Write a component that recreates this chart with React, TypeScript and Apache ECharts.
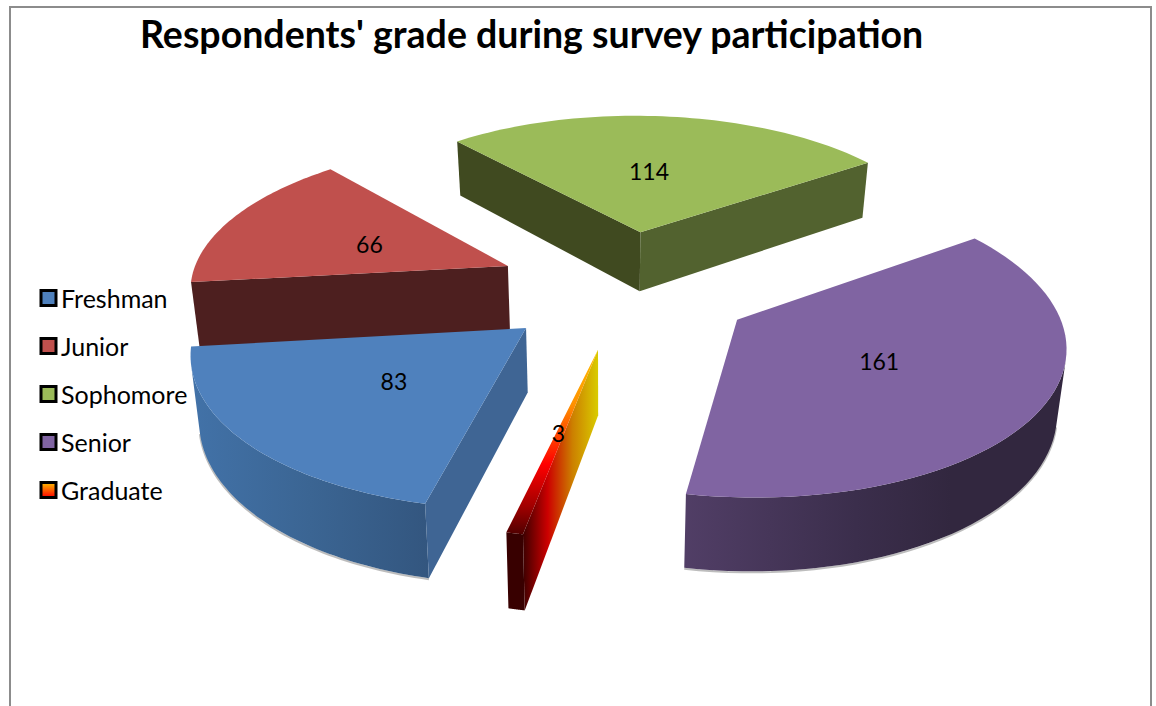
import React, { useEffect, useRef } from "react";
import * as echarts from "echarts";

const titleText = "Respondents' grade during survey participation";
const names = ["Freshman", "Junior", "Sophomore", "Senior", "Graduate"];
const values = [83, 66, 114, 161, 3];

const FONT = "Lato, Carlito, 'Noto Sans', sans-serif";

// Ground plane -> screen homography of the tilted pie, found by fitting the picture's outline.
const H = { a: 319.781, b: 77.407, c: 626.444, d: 0.334887, e: -107.345, f: 286.955, g: 0.00529866, h: 0.131661 };
const DEPTH = 62.0621;
const NADIR_X = 606.113;
const NADIR_K = 0.0208348;
const FIRST_ANGLE = 193.916;
const explode = [0.411007, 0.407833, 0.399671, 0.403549, 0.417858];
const depthScale = [1, 1.06, 1, 1, 1];
const drawOrder = [2, 1, 3, 0, 4];
const labelFrac = [0.55, 0.55, 0.5, 0.5, 0.5];
const labelNudge = [[15, -7], [15, 5], [-7, 0], [-4, -2], [-1, -2]];

const total = values.reduce((s, v) => s + v, 0);
const spans = values.map((v) => (v / total) * 360);
const starts: number[] = [];
spans.reduce((s, a) => { starts.push(s); return s + a; }, FIRST_ANGLE);
const RAD = Math.PI / 180;

const lg = (x0: number, y0: number, x1: number, y1: number, stops: [number, string][]) =>
  new echarts.graphic.LinearGradient(x0, y0, x1, y1, stops.map(([offset, color]) => ({ offset, color })));

const topFill: any[] = [
  "#4f81bd",
  "#c0504d",
  "#9bbb59",
  "#8064a2",
  lg(0, 0, 0, 1, [[0, "#ffc000"], [0.3, "#ff9000"], [0.62, "#ff0000"], [0.85, "#a00000"], [1, "#500000"]]),
];
const wallStart: any[] = [
  "#3f6594",
  "#4d1f1f",
  "#404a20",
  "#3a2e4c",
  lg(0, 0, 1, 0, [[0, "#3d0000"], [0.33, "#cc0000"], [0.66, "#cc8000"], [1, "#d9cc00"]]),
];
const wallEnd: any[] = ["#3f6594", "#4d1f1f", "#52622f", "#3a2e4c", "#3d0000"];
const rimFill: any[] = [
  lg(0, 0, 1, 0, [[0, "#4272a8"], [0.5, "#3b6593"], [1, "#33567f"]]),
  "#4d1f1f",
  "#52622f",
  lg(0, 0, 1, 0, [[0, "#513e66"], [0.45, "#3b2e4c"], [0.7, "#32273f"], [1, "#32273f"]]),
  "#380000",
];
const legendFill: any[] = [
  "#4f81bd",
  "#c0504d",
  "#9bbb59",
  "#8064a2",
  lg(0, 0, 0, 1, [[0, "#ffc000"], [1, "#ff0000"]]),
];

function project(i: number, th: number | null, low: boolean, radius = 1) {
  const mid = (starts[i] + spans[i] / 2) * RAD;
  let X = explode[i] * Math.sin(mid);
  let Y = explode[i] * Math.cos(mid);
  if (th !== null) {
    X += radius * Math.sin(th * RAD);
    Y += radius * Math.cos(th * RAD);
  }
  const w = 1 + H.g * X + H.h * Y;
  let x = (H.a * X + H.b * Y + H.c) / w;
  let y = (H.d * X + H.e * Y + H.f) / w;
  if (low) {
    x += (NADIR_X - x) * NADIR_K;
    y += (DEPTH * depthScale[i]) / w;
  }
  return [x, y];
}

const shoelace = (p: number[][]) => {
  let s = 0;
  p.forEach((a, k) => {
    const b = p[(k + 1) % p.length];
    s += a[0] * b[1] - b[0] * a[1];
  });
  return s;
};

function sliceChildren(i: number) {
  const N = 60;
  const angle = (t: number) => starts[i] + (spans[i] * t) / N;
  const top: number[][] = [];
  const low: number[][] = [];
  for (let t = 0; t <= N; t++) {
    top.push(project(i, angle(t), false));
    low.push(project(i, angle(t), true));
  }
  const apex = project(i, null, false);
  const apexLow = project(i, null, true);
  const kids: any[] = [];

  // Rim: keep only the segments that face the viewer.
  let first = -1;
  let last = -1;
  for (let t = 0; t < N; t++) {
    if (shoelace([top[t], top[t + 1], low[t + 1], low[t]]) < 0) {
      if (first < 0) first = t;
      last = t + 1;
    }
  }
  if (first >= 0) {
    const upper = top.slice(first, last + 1);
    const lower = low.slice(first, last + 1);
    if (i !== 4) {
      kids.push({
        type: "polyline",
        shape: { points: lower.map(([x, y]) => [x, y + 1]) },
        style: { stroke: "rgba(90,90,90,0.4)", lineWidth: 2, fill: "none" },
      });
    }
    kids.push({
      type: "polygon",
      shape: { points: [...upper, ...lower.slice().reverse()] },
      style: { fill: rimFill[i], stroke: "none" },
    });
  }
  // Flat walls, back faces culled.
  const a = [apex, top[0], low[0], apexLow];
  if (shoelace(a) < 0) kids.push({ type: "polygon", shape: { points: a }, style: { fill: wallStart[i] } });
  const b = [top[N], apex, apexLow, low[N]];
  if (shoelace(b) < 0) kids.push({ type: "polygon", shape: { points: b }, style: { fill: wallEnd[i] } });
  // Top face.
  kids.push({ type: "polygon", shape: { points: [apex, ...top] }, style: { fill: topFill[i] } });
  // Value label.
  const lp = project(i, starts[i] + spans[i] / 2, false, labelFrac[i]);
  kids.push({
    type: "text",
    style: {
      text: String(values[i]),
      x: lp[0] + labelNudge[i][0],
      y: lp[1] + labelNudge[i][1],
      fill: "#000",
      fontFamily: FONT,
      fontSize: 23,
      align: "center",
      verticalAlign: "middle",
    },
  });
  return kids;
}

export default function App() {
  const ref = useRef<HTMLDivElement>(null);
  useEffect(() => {
    const chart = echarts.init(ref.current!, undefined, { renderer: "svg" });
    chart.setOption({
      animation: false,
      backgroundColor: "#fff",
      title: {
        text: titleText,
        left: 135,
        top: 9,
        textStyle: { fontFamily: FONT, fontWeight: "bold", fontSize: 37.5, color: "#000" },
      },
      legend: {
        orient: "vertical",
        left: 34.5,
        top: 280.5,
        itemWidth: 15,
        itemHeight: 15,
        itemGap: 23,
        selectedMode: false,
        icon: "rect",
        textStyle: { fontFamily: FONT, fontSize: 25, color: "#000" },
        data: names.map((name, i) => ({
          name,
          icon: "rect",
          itemStyle: { color: legendFill[i], borderColor: "#000", borderWidth: 3 },
        })),
      },
      graphic: [
        {
          type: "rect",
          silent: true,
          z: -1,
          shape: { x: 10, y: 7, width: 1141, height: 800 },
          style: { fill: "none", stroke: "#8c8c8c", lineWidth: 2 },
        },
      ],
      series: drawOrder.map((i) => ({
        type: "custom",
        name: names[i],
        coordinateSystem: "none",
        silent: true,
        data: [[values[i]]],
        renderItem: () => ({ type: "group", children: sliceChildren(i) }),
      })),
    });
    return () => chart.dispose();
  }, []);
  return (
    <div style={{ position: "absolute", left: 0, top: 0, width: 1156, height: 706, overflow: "hidden" }}>
      <div ref={ref} style={{ width: 1156, height: 706 }} />
    </div>
  );
}
